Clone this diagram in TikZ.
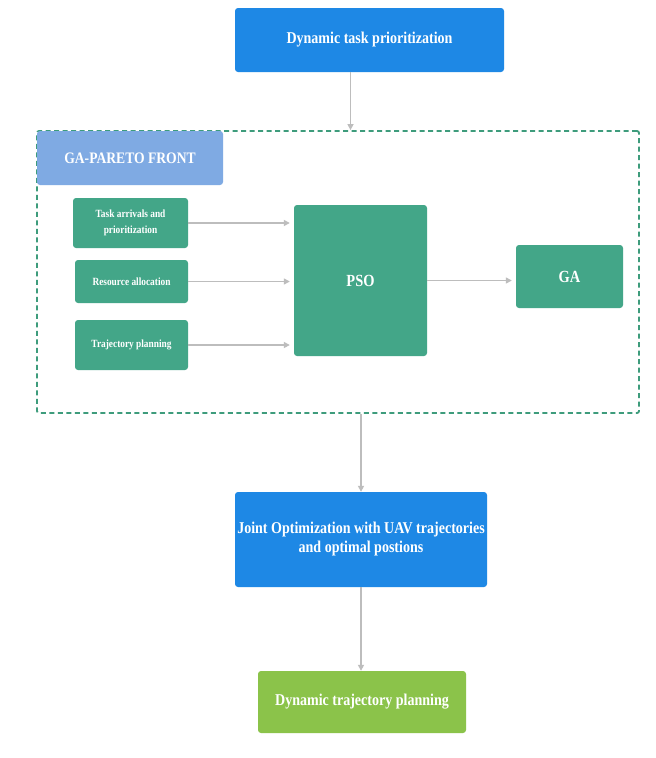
\documentclass[tikz,border=0pt]{standalone}
\usepackage{fontspec}
\setmainfont{Liberation Serif}[FakeStretch=0.85]
\usepackage{tikz}
\usepackage{xcolor}
\usetikzlibrary{arrows.meta}
\definecolor{flowblue}{HTML}{1E88E5}
\definecolor{tabblue}{HTML}{7FAAE3}
\definecolor{boxgreen}{HTML}{43A688}
\definecolor{framegreen}{HTML}{3E9C7C}
\definecolor{lightgreen}{HTML}{8BC34A}
\definecolor{arrowgray}{HTML}{BDBDBD}
\tikzset{
    base-box/.style = {rectangle, rounded corners=3pt, text=white, inner sep=2pt, align=center},
    blue-box/.style = {base-box, fill=flowblue, font=\fontsize{16.5}{19}\selectfont\bfseries},
    green-box/.style = {base-box, fill=boxgreen, font=\fontsize{17}{19}\selectfont\bfseries},
    small-box/.style = {base-box, fill=boxgreen, font=\fontsize{11}{16}\selectfont\bfseries},
    tab-box/.style = {base-box, fill=tabblue, font=\fontsize{16}{19}\selectfont\bfseries},
    end-box/.style = {base-box, fill=lightgreen, font=\fontsize{16.5}{19}\selectfont\bfseries},
    dashed-frame/.style = {rectangle, draw=framegreen, dash pattern=on 5pt off 3.5pt, line width=1.8pt, rounded corners=2pt},
    flow-arrow/.style = {draw=arrowgray, line width=1.4pt, -{Triangle[length=6pt, width=6pt]}},
}

\begin{document}
\begin{tikzpicture}[x=1pt, y=-1pt]
\fill[white] (0,0) rectangle (656,758);
\useasboundingbox (0,0) rectangle (656,758);
\node [blue-box, minimum width=269pt, minimum height=64pt] (top) at (369.5,40) {Dynamic task prioritization};
\node [dashed-frame, minimum width=602pt, minimum height=282pt] (frame) at (338,272) {};
\node [tab-box, minimum width=186pt, minimum height=54pt] (tab) at (130,158) {GA-PARETO FRONT};
\node [small-box, minimum width=115pt, minimum height=50pt] (task) at (130.5,223) {Task arrivals and\\prioritization};
\node [small-box, minimum width=113pt, minimum height=43pt] (res) at (131.5,281.5) {Resource allocation};
\node [small-box, minimum width=113pt, minimum height=50pt] (traj) at (131.5,345) {Trajectory planning};
\node [green-box, minimum width=133pt, minimum height=151pt] (pso) at (360.5,280.5) {PSO};
\node [green-box, minimum width=107pt, minimum height=63pt] (ga) at (569.5,276.5) {GA};
\node [blue-box, minimum width=252pt, minimum height=95pt] (joint) at (361,539.5) {Joint Optimization with UAV trajectories\\and optimal postions};
\node [end-box, minimum width=208pt, minimum height=62pt] (final) at (362,702) {Dynamic trajectory planning};

\draw[flow-arrow] ([xshift=-19pt]top.south) -- ([xshift=-19pt]top.south |- frame.north);
\draw[flow-arrow, shorten >=4pt] (task.east) -- (task.east -| pso.west);
\draw[flow-arrow, shorten >=4pt] (res.east) -- (res.east -| pso.west);
\draw[flow-arrow, shorten >=4pt] (traj.east) -- (traj.east -| pso.west);
\draw[flow-arrow, shorten >=4pt] (pso.east) -- (pso.east -| ga.west);
\draw[flow-arrow] (frame.south -| joint.north) -- (joint.north);
\draw[flow-arrow] (joint.south) -- (joint.south |- final.north);
\end{tikzpicture}
\end{document}
